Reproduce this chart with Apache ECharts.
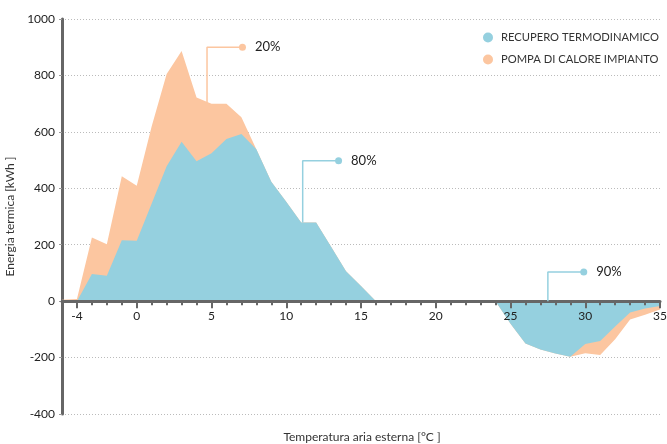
<!DOCTYPE html>
<html>
<head>
<meta charset="utf-8">
<script src="https://cdn.jsdelivr.net/npm/echarts@6/dist/echarts.min.js"></script>
<style>
  html, body { margin: 0; padding: 0; background: #fff; }
  #chart { width: 667px; height: 444px; }
</style>
</head>
<body>
<div id="chart"></div>
<script>
// temperature steps (°C)
const temps = [-5,-4,-3,-2,-1,0,1,2,3,4,5,6,7,8,9,10,11,12,13,14,15,16,17,18,19,20,21,22,23,24,25,26,27,28,29,30,31,32,33,34,35]
// recupero termodinamico [kWh]
const recupero = [0,0,96,90,216,214,346,478,565,496,524,575,592,538,423,352,279,279,193,106,54,0,
  0,0,0,0,0,0,0,0,-80,-150,-171,-186,-197,-152,-141,-90,-40,-26,-17]
// pompa di calore impianto [kWh]
const pompa = [5,8,226,202,443,409,620,805,887,722,700,700,652,538,423,352,279,279,193,106,54,0,
  0,0,0,0,0,0,0,0,-80,-150,-171,-186,-197,-185,-191,-135,-65,-48,-30]
const xTicks = [-4,0,5,10,15,20,25,30,35]
const seriesNames = ['RECUPERO TERMODINAMICO','POMPA DI CALORE IMPIANTO']
// callouts: [temp, kWh] points, last one gets the dot and the text
const callout20 = [[4.7,703],[4.7,900],[7.07,900]]
const callout80 = [[11.1,279],[11.1,498],[13.5,498]]
const callout90 = [[27.5,0],[27.5,103],[29.9,103]]

const BLUE = '#95d0df'
const ORANGE = '#fcc6a0'
const FONT = 'Lato'
const Y_MIN = -400, Y_MAX = 1000
const GRID = { left: 62, right: 7, top: 19, bottom: 30 }
// x axes sit on the zero line: shift them up from the grid bottom
const zeroOffset = -(444 - GRID.top - GRID.bottom) * (0 - Y_MIN) / (Y_MAX - Y_MIN)

function pairs(vals){ return temps.map((t,i)=>[t, vals[i]]) }

function callout(pts, text, color){
  return {
    type: 'line',
    silent: true,
    symbol: 'none',
    z: 5,
    lineStyle: { color: color, width: 1.5 },
    data: pts.map((p,i)=> i < pts.length-1 ? p : {
      value: p, symbol: 'circle', symbolSize: 7,
      itemStyle: { color: color },
      label: { show: true, position: 'right', distance: 9, formatter: text,
        color: '#222', fontSize: 13, fontFamily: FONT }
    })
  }
}

let myChart = echarts.init(document.getElementById('chart'))
let option = {
  animation: false,
  textStyle: { fontFamily: FONT },
  grid: Object.assign({ outerBoundsMode: 'none' }, GRID),
  legend: {
    orient: 'vertical',
    left: 478, top: 27,
    itemWidth: 10, itemHeight: 10, itemGap: 11,
    icon: 'circle',
    data: seriesNames,
    textStyle: { color: '#333', fontSize: 11.2, fontFamily: FONT, padding: [0,0,0,3] }
  },
  xAxis: [
    {
      type: 'value', min: -5, max: 35, interval: 1, position: 'bottom', offset: zeroOffset, z: 4,
      axisLine: { onZero: false, lineStyle: { color: '#666', width: 3 } },
      axisTick: { customValues: xTicks, length: 7, lineStyle: { color: '#666', width: 2 } },
      axisLabel: { customValues: xTicks, color: '#222', fontSize: 12, margin: 9 },
      splitLine: { show: false }
    },
    {
      type: 'value', min: -5, max: 35, interval: 1, position: 'bottom', offset: zeroOffset, z: 4,
      axisLine: { show: false, onZero: false },
      axisTick: { length: 4, lineStyle: { color: '#666', width: 2 } },
      axisLabel: { show: false },
      splitLine: { show: false }
    }
  ],
  yAxis: {
    type: 'value', min: Y_MIN, max: Y_MAX, interval: 200,
    name: 'Energia termica [kWh ]', nameLocation: 'middle', nameGap: 39,
    nameTextStyle: { color: '#333', fontSize: 12, fontFamily: FONT },
    axisLine: { show: true, onZero: false, lineStyle: { color: '#666', width: 3 } },
    axisTick: { show: true, length: 3, lineStyle: { color: '#999' } },
    axisLabel: { color: '#222', fontSize: 12, margin: 7, formatter: v => String(v) },
    splitLine: { show: true, lineStyle: { color: '#bbb', type: [1,2], width: 1 } }
  },
  graphic: [{
    type: 'text', x: 362, y: 437,
    style: { text: 'Temperatura aria esterna [°C ]', fill: '#333', fontSize: 12,
      fontFamily: FONT, align: 'center', verticalAlign: 'middle' }
  }],
  series: [
    {
      name: seriesNames[1], type: 'line', symbol: 'none', silent: true,
      color: ORANGE, lineStyle: { width: 0 }, areaStyle: { color: ORANGE, opacity: 1 },
      data: pairs(pompa)
    },
    {
      name: seriesNames[0], type: 'line', symbol: 'none', silent: true,
      color: BLUE, lineStyle: { width: 0 }, areaStyle: { color: BLUE, opacity: 1 },
      data: pairs(recupero)
    },
    callout(callout20, '20%', ORANGE),
    callout(callout80, '80%', BLUE),
    callout(callout90, '90%', BLUE)
  ]
}
myChart.setOption(option)
</script>
</body>
</html>
